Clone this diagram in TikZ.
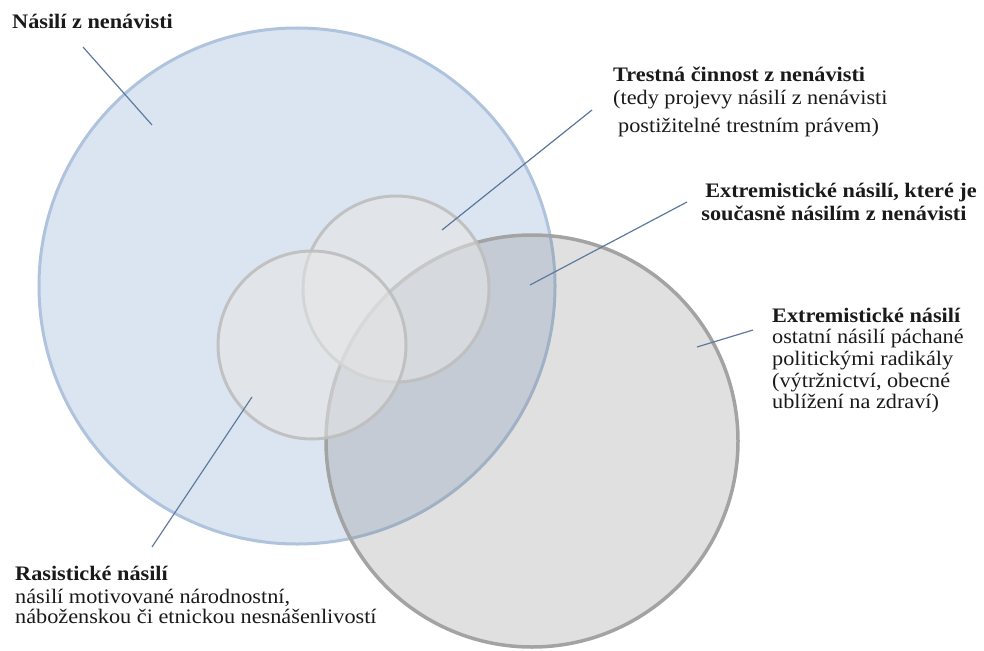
\documentclass[tikz,border=0pt]{standalone}
\usepackage{fontspec}
\setmainfont{Liberation Serif}[FakeStretch=1.08]
\definecolor{bluefill}{HTML}{DBE5F1}
\definecolor{blueline}{HTML}{AFC3DD}
\definecolor{grayline}{HTML}{A3A3A3}
\definecolor{smallline}{HTML}{BEBEBE}
\definecolor{smallfill}{HTML}{E6E6E6}
\definecolor{lead}{HTML}{5E7A9E}
\definecolor{txt}{HTML}{1A1A1A}
\begin{document}
\begin{tikzpicture}[x=1pt,y=-1pt,
  lbl/.style={font=\fontsize{20.6}{21.5}\selectfont, text=txt, inner sep=0pt, anchor=base west},
  lblb/.style={lbl, font=\fontsize{20.6}{21.5}\selectfont\bfseries},
  leader/.style={draw=lead, line width=1.2pt},
  bigblue/.style={circle, inner sep=0pt, fill=bluefill, draw=blueline, line width=3pt},
  biggray/.style={circle, inner sep=0pt, fill=black!55, fill opacity=0.22, draw=grayline, draw opacity=1, line width=3.5pt},
  smallc/.style={circle, inner sep=0pt, fill=smallfill, fill opacity=0.55, draw=smallline, draw opacity=0.9, line width=3pt}
]
\useasboundingbox (0,0) rectangle (984,650);
\fill[white] (0,0) rectangle (984,650);

% circles
\node[bigblue, minimum size=516pt] (hate) at (297,286) {};
\node[biggray, minimum size=412pt] (extr) at (532,441) {};
\node[smallc, minimum size=186pt] (crime) at (396,289) {};
\node[smallc, minimum size=188pt] (rasist) at (312,345) {};

% texts
\node[lblb] (t1) at (12,29) {Násilí z nenávisti};

\node[lblb] (t2a) at (613,82) {Trestná činnost z nenávisti};
\node[lbl]  (t2b) at (613,105) {(tedy projevy násilí z nenávisti};
\node[lbl]  (t2c) at (618,132) {postižitelné trestním právem)};

\node[lblb, anchor=base] (t3a) at (841,197) {Extremistické násilí, které je};
\node[lblb, anchor=base] (t3b) at (834,220) {současně násilím z nenávisti};

\node[lblb] (t4a) at (772,322) {Extremistické násilí};
\node[lbl]  (t4b) at (772,343) {ostatní násilí páchané};
\node[lbl]  (t4c) at (772,365) {politickými radikály};
\node[lbl]  (t4d) at (772,387) {(výtržnictví, obecné};
\node[lbl]  (t4e) at (772,408) {ublížení na zdraví)};

\node[lblb] (t5a) at (15,580) {Rasistické násilí};
\node[lbl]  (t5b) at (15,603) {násilí motivované národnostní,};
\node[lbl]  (t5c) at (15,623) {náboženskou či etnickou nesnášenlivostí};

% leader lines
\coordinate (l1a) at (83,47);   \coordinate (l1b) at (152,125);
\coordinate (l2a) at (592,110); \coordinate (l2b) at (442,230);
\coordinate (l3a) at (687,202); \coordinate (l3b) at (530,285);
\coordinate (l4a) at (753,330); \coordinate (l4b) at (697,347);
\coordinate (l5a) at (252,397); \coordinate (l5b) at (152,547);
\draw[leader] (l1a) -- (l1b);
\draw[leader] (l2a) -- (l2b);
\draw[leader] (l3a) -- (l3b);
\draw[leader] (l4a) -- (l4b);
\draw[leader] (l5a) -- (l5b);
\end{tikzpicture}
\end{document}
